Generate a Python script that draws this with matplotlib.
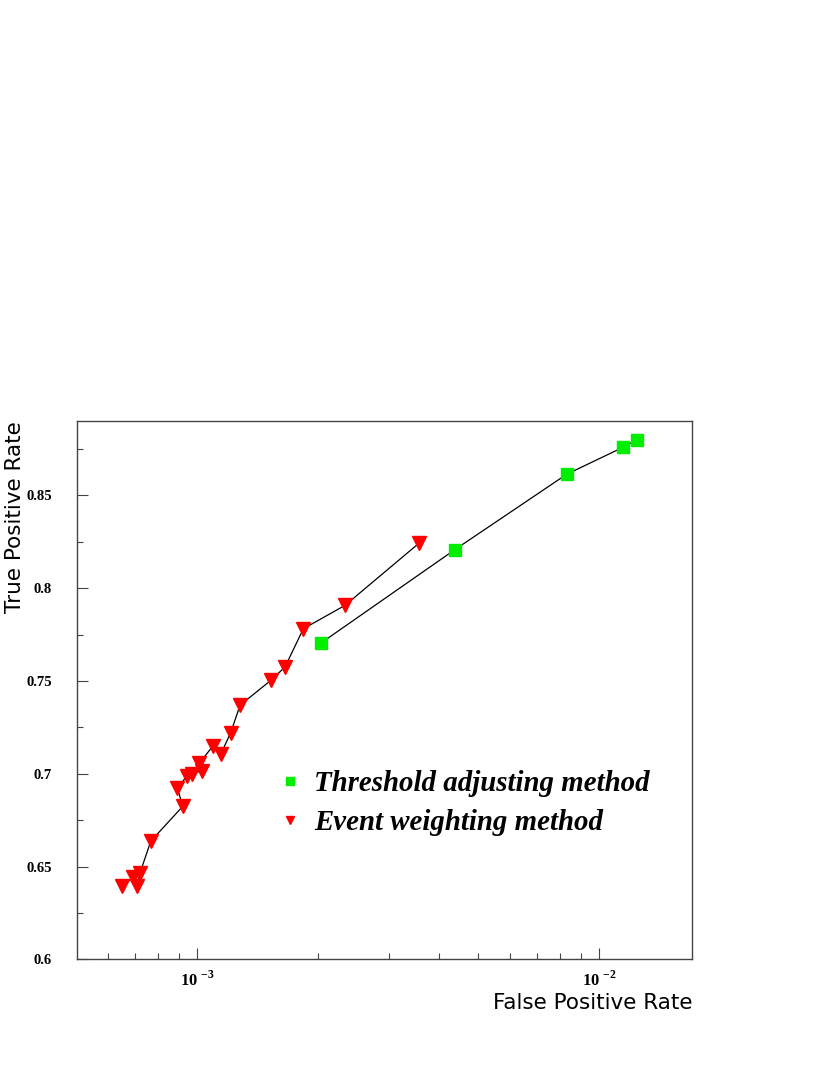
import math
import matplotlib
matplotlib.use("Agg")
import matplotlib.pyplot as plt
from matplotlib.lines import Line2D
from matplotlib.ticker import LogLocator, FuncFormatter, MultipleLocator, NullFormatter

plt.rcParams['mathtext.fontset'] = 'custom'
plt.rcParams['mathtext.rm'] = 'Liberation Serif'
plt.rcParams['mathtext.bf'] = 'Liberation Serif:bold'

# threshold adjusting method (green squares)
thr_fpr = [2.03e-3, 4.37e-3, 8.29e-3, 1.147e-2, 1.243e-2]
thr_tpr = [0.7704, 0.8207, 0.8613, 0.8759, 0.880]

# event weighting method (red triangles), in drawing order
evw_fpr = [6.50e-4, 6.93e-4, 7.09e-4, 7.20e-4, 7.66e-4, 9.20e-4, 8.92e-4,
           9.41e-4, 9.68e-4, 1.025e-3, 1.012e-3, 1.092e-3, 1.143e-3, 1.211e-3,
           1.277e-3, 1.523e-3, 1.652e-3, 1.835e-3, 2.33e-3, 3.56e-3]
evw_tpr = [0.6395, 0.6445, 0.6395, 0.6466, 0.6637, 0.6825, 0.6921,
           0.6987, 0.7001, 0.7015, 0.7058, 0.7148, 0.7105, 0.7222,
           0.7369, 0.7503, 0.7575, 0.7781, 0.7907, 0.8242]

legend_labels = ['Threshold adjusting method', 'Event weighting method']

fig = plt.figure(figsize=(8.3, 10.75), dpi=100)
ax = fig.add_axes([0.0928, 0.1075, 0.7410, 0.5009])

ax.plot(thr_fpr, thr_tpr, color='black', lw=0.9, zorder=1)
ax.plot(thr_fpr, thr_tpr, ls='none', marker='s', ms=9, color='#00ee00', mec='#00ee00', zorder=2)
ax.plot(evw_fpr, evw_tpr, color='black', lw=0.9, zorder=1)
ax.plot(evw_fpr, evw_tpr, ls='none', marker='v', ms=10.5, color='#ff0000', mec='#ff0000', zorder=2)

ax.set_xscale('log')
ax.set_xlim(5.02e-4, 1.70e-2)
ax.set_ylim(0.6, 0.89)

ax.xaxis.set_major_locator(LogLocator(base=10, numticks=10))
ax.xaxis.set_minor_locator(LogLocator(base=10, subs=range(2, 10), numticks=10))
ax.xaxis.set_major_formatter(FuncFormatter(lambda v, p: r'$\mathbf{10}^{\ \mathbf{%d}}$' % round(math.log10(v))))
ax.xaxis.set_minor_formatter(NullFormatter())
ax.yaxis.set_major_locator(MultipleLocator(0.05))
ax.yaxis.set_minor_locator(MultipleLocator(0.025))
ax.yaxis.set_major_formatter(FuncFormatter(lambda v, p: '%g' % round(v, 3)))

ax.tick_params(which='both', direction='in', color='#444444', width=0.8)
ax.tick_params(which='major', length=8)
ax.tick_params(which='minor', length=4)
ax.tick_params(axis='y', pad=18)
ax.tick_params(axis='x', pad=8)
for lab in ax.get_yticklabels():
    lab.set_family('Liberation Serif')
    lab.set_weight('bold')
    lab.set_fontsize(10.5)
for lab in ax.get_xticklabels():
    lab.set_fontsize(12)
for sp in ax.spines.values():
    sp.set_color('#444444')
    sp.set_linewidth(1.0)

ax.set_xlabel('False Positive Rate', family='DejaVu Sans', fontsize=15.5, loc='right', labelpad=2)
ax.set_ylabel('True Positive Rate', family='DejaVu Sans', fontsize=15.5, loc='top')
ax.yaxis.set_label_coords(-0.084, 1.0)

handles = [Line2D([], [], ls='none', marker='s', ms=6, color='#00ee00'),
           Line2D([], [], ls='none', marker='v', ms=6, color='#ff0000')]
ax.legend(handles, legend_labels, loc='upper left', bbox_to_anchor=(0.325, 0.352),
          frameon=False, borderpad=0, borderaxespad=0, handlelength=0.9,
          handletextpad=0.4, labelspacing=0.42,
          prop={'family': 'Liberation Serif', 'weight': 'bold', 'style': 'italic', 'size': 20.8})

fig.savefig('out.png', dpi=100)
